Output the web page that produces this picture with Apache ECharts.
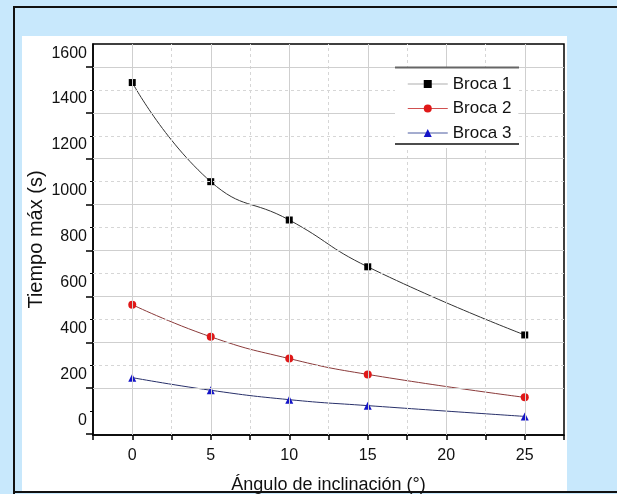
<html>
  <head>
    <meta charset="utf-8">
    <script src="https://cdn.jsdelivr.net/npm/echarts@6/dist/echarts.min.js"></script>
    <style>
      html, body { margin: 0; overflow: hidden; background-color: #c8e8fc; font-family: "Liberation Sans", Arial, sans-serif; }
      .bar { position: absolute; background-color: #111; }
      #card { position: absolute; left: 22px; top: 36px; width: 545px; height: 456px; background-color: #fff; }
      #chart { position: absolute; left: 0; top: 0; width: 617px; height: 494px; }
    </style>
  </head>
  <body>
    <div id="card"></div>
    <div class="bar" style="left:13px; top:6px; width:604px; height:2px;"></div>
    <div class="bar" style="left:13px; top:6px; width:2px; height:488px;"></div>
    <div class="bar" style="left:13px; top:491px; width:604px; height:2px;"></div>
    <div id="chart"></div>
  </body>
  <script>
    // data
    var angles = [0, 5, 10, 15, 25];
    var broca1 = [1472, 1040, 873, 669, 372];
    var broca2 = [504, 364, 269, 200, 100];
    var broca3 = [186, 131, 90, 64, 17];
    var xLabels = [0, 5, 10, 15, 20, 25];
    var yLabels = [0, 200, 400, 600, 800, 1000, 1200, 1400, 1600];

    // grid lines of the original sit a bit off the tick labels
    var xSolid = [0, 5, 10, 15, 20, 25];
    var xDashed = [2.5, 7.5, 12.5, 17.5, 22.5];
    var ySolid = [140, 340, 540, 740, 940, 1140, 1340, 1540];
    var yDashed = [240, 440, 640, 840, 1040, 1240, 1440];
    var xTicks = [-2.5, 0, 2.5, 5, 7.5, 10, 12.5, 15, 17.5, 20, 22.5, 25, 27.5];
    var yTicks = [-60, 140, 340, 540, 740, 940, 1140, 1340, 1540];
    var yMinorTicks = [40, 240, 440, 640, 840, 1040, 1240, 1440];

    function pairs(ys) {
        var out = [];
        for (let i in angles) {
            out.push([angles[i], ys[i]]);
        }
        return out;
    }

    function gridLines() {
        var d = [];
        for (let v of xSolid) d.push({xAxis: v, lineStyle: {type: 'solid', color: '#cfcfcf'}});
        for (let v of xDashed) d.push({xAxis: v, lineStyle: {type: [3, 3], color: '#d6d6d6'}});
        for (let v of ySolid) d.push({yAxis: v, lineStyle: {type: 'solid', color: '#cfcfcf'}});
        for (let v of yDashed) d.push({yAxis: v, lineStyle: {type: [3, 3], color: '#d6d6d6'}});
        return d;
    }

    var chartDom = document.getElementById('chart');
    var chart = echarts.init(chartDom);
    var font = '"Liberation Sans", Arial, sans-serif';

    var option = {
        animation: false,
        textStyle: { fontFamily: font },
        grid: { left: 93, right: 53, top: 44, bottom: 59, outerBoundsMode: 'none', containLabel: false,
                show: true, borderColor: '#000', borderWidth: 1.5 },
        legend: {
            orient: 'vertical', left: 395, top: 68, itemWidth: 40, itemHeight: 10, itemGap: 6.5,
            backgroundColor: '#fff', padding: [7, 7, 6, 12], z: 10,
            textStyle: { fontSize: 17, color: '#111', lineHeight: 18, fontFamily: font },
            data: [
                { name: 'Broca 1', lineStyle: { color: '#c8c8c8', width: 1.5 } },
                { name: 'Broca 2', lineStyle: { color: '#d05050', width: 1 } },
                { name: 'Broca 3', lineStyle: { color: '#4a5aa0', width: 1 } }
            ]
        },
        graphic: [
            { type: 'line', z: 100, shape: { x1: 395, y1: 67.5, x2: 519, y2: 67.5 }, style: { stroke: '#666', lineWidth: 2 } },
            { type: 'line', z: 100, shape: { x1: 395, y1: 144, x2: 519, y2: 144 }, style: { stroke: '#111', lineWidth: 1.5 } }
        ],
        xAxis: {
            type: 'value', min: -2.5, max: 27.5,
            name: 'Ángulo de inclinación (°)', nameLocation: 'middle', nameGap: 41, nameMoveOverlap: false,
            nameTextStyle: { fontSize: 18, color: '#111', fontFamily: font },
            axisLine: { onZero: false, lineStyle: { color: '#000', width: 1.5 } },
            axisTick: { customValues: xTicks, length: 5, lineStyle: { color: '#000', width: 1.5 } },
            axisLabel: { customValues: xLabels, fontSize: 16, color: '#111', margin: 13, formatter: function (v) { return String(v); } },
            splitLine: { show: false }
        },
        yAxis: [{
            type: 'value', min: -64, max: 1640,
            name: 'Tiempo máx (s)', nameLocation: 'middle', nameGap: 47, nameMoveOverlap: false,
            nameTextStyle: { fontSize: 20, color: '#111', fontFamily: font },
            axisLine: { show: true, onZero: false, lineStyle: { color: '#000', width: 1.5 } },
            axisTick: { customValues: yTicks, length: 7, lineStyle: { color: '#000', width: 1.5 } },
            axisLabel: { customValues: yLabels, fontSize: 16, color: '#111', margin: 6, formatter: function (v) { return String(v); } },
            splitLine: { show: false }
        }, {
            type: 'value', min: -64, max: 1640, position: 'left',
            axisLine: { show: false, onZero: false },
            axisTick: { show: true, customValues: yMinorTicks, length: 3, lineStyle: { color: '#000', width: 1 } },
            axisLabel: { show: false },
            splitLine: { show: false }
        }],
        series: [
            {
                name: 'grid', type: 'line', data: [], silent: true, z: 1,
                markLine: { silent: true, symbol: ['none', 'none'], label: { show: false }, animation: false, data: gridLines() }
            },
            {
                name: 'Broca 1', type: 'line', data: pairs(broca1), smooth: 0.5, z: 3,
                symbol: 'rect', symbolSize: 7,
                lineStyle: { color: '#333', width: 1 },
                itemStyle: { color: '#000' }
            },
            {
                name: 'Broca 2', type: 'line', data: pairs(broca2), smooth: 0.5, z: 3,
                symbol: 'circle', symbolSize: 8,
                lineStyle: { color: '#8a3a3a', width: 1 },
                itemStyle: { color: '#e01818' }
            },
            {
                name: 'Broca 3', type: 'line', data: pairs(broca3), smooth: 0.5, z: 3,
                symbol: 'triangle', symbolSize: 8,
                lineStyle: { color: '#28306a', width: 1 },
                itemStyle: { color: '#1414c8' }
            }
        ]
    };
    chart.setOption(option);
  </script>
</html>
